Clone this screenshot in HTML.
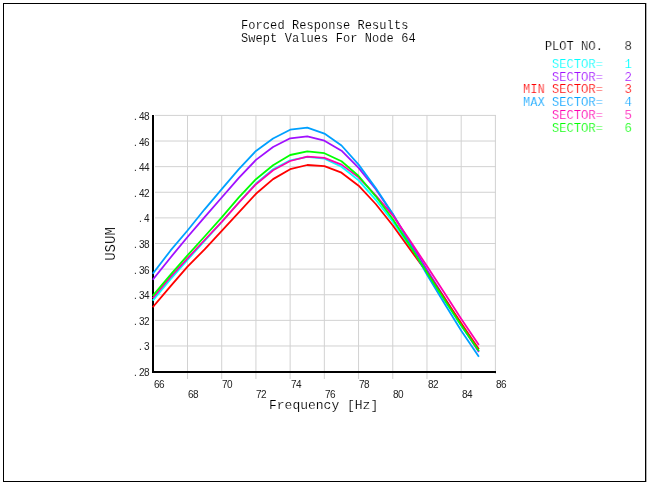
<!DOCTYPE html>
<html><head><meta charset="utf-8"><title>Forced Response Results</title>
<style>
html,body{margin:0;padding:0;background:#fff;}
body{width:649px;height:482px;position:relative;overflow:hidden;-webkit-font-smoothing:antialiased;font-family:"Liberation Sans",sans-serif;}
.m{will-change:transform;position:absolute;font-family:"Liberation Mono",monospace;white-space:pre;line-height:1;color:#000;-webkit-text-stroke:0.22px #fff;}
.t{will-change:transform;position:absolute;font-family:"Liberation Sans",sans-serif;font-size:10px;line-height:10px;color:#222;white-space:pre;letter-spacing:-0.5px;}
.yl{text-align:right;width:40px;left:109.3px;}
.yl i{font-style:normal;margin-right:2.6px;}
.lg{font-size:13.7px;transform:scaleX(0.883);transform-origin:0 0;}
</style></head><body>
<svg width="649" height="482" viewBox="0 0 649 482" style="position:absolute;left:0;top:0">
<rect x="3.5" y="3.5" width="642" height="478" fill="none" stroke="#000" stroke-width="1"/>
<rect x="646" y="3" width="1" height="479" fill="#b0b0b0"/>
<rect x="155" y="114.90" width="341" height="1" fill="#D2D2D2"/>
<rect x="155" y="140.52" width="341" height="1" fill="#D2D2D2"/>
<rect x="155" y="166.14" width="341" height="1" fill="#D2D2D2"/>
<rect x="155" y="191.76" width="341" height="1" fill="#D2D2D2"/>
<rect x="155" y="217.38" width="341" height="1" fill="#D2D2D2"/>
<rect x="155" y="243.00" width="341" height="1" fill="#D2D2D2"/>
<rect x="155" y="268.62" width="341" height="1" fill="#D2D2D2"/>
<rect x="155" y="294.24" width="341" height="1" fill="#D2D2D2"/>
<rect x="155" y="319.86" width="341" height="1" fill="#D2D2D2"/>
<rect x="155" y="345.48" width="341" height="1" fill="#D2D2D2"/>
<rect x="187.00" y="115" width="1" height="264" fill="#D2D2D2"/>
<rect x="221.21" y="115" width="1" height="264" fill="#D2D2D2"/>
<rect x="255.42" y="115" width="1" height="264" fill="#D2D2D2"/>
<rect x="289.63" y="115" width="1" height="264" fill="#D2D2D2"/>
<rect x="323.84" y="115" width="1" height="264" fill="#D2D2D2"/>
<rect x="358.05" y="115" width="1" height="264" fill="#D2D2D2"/>
<rect x="392.26" y="115" width="1" height="264" fill="#D2D2D2"/>
<rect x="426.47" y="115" width="1" height="264" fill="#D2D2D2"/>
<rect x="460.68" y="115" width="1" height="264" fill="#D2D2D2"/>
<rect x="494.89" y="115" width="1" height="259" fill="#D2D2D2"/>
<rect x="152" y="115" width="2" height="258" fill="#000"/>
<rect x="152" y="371" width="344" height="2" fill="#000"/>
<polyline points="153.30,299.90 170.41,279.30 187.52,259.80 204.63,241.00 221.74,222.00 238.85,202.50 255.96,183.50 273.07,169.30 290.18,160.30 307.29,156.80 324.40,158.60 341.51,166.70 358.62,180.40 375.73,199.80 392.84,221.80 409.95,247.30 427.06,273.20 444.17,299.60 461.28,325.70 478.39,350.60" fill="none" stroke="#00FFFF" stroke-width="1.8" stroke-linejoin="round" stroke-linecap="square"/>
<polyline points="153.30,279.00 170.41,257.70 187.52,237.00 204.63,217.20 221.74,197.50 238.85,177.90 255.96,159.90 273.07,147.00 290.18,138.30 307.29,136.40 324.40,140.70 341.51,150.70 358.62,167.90 375.73,189.30 392.84,214.20 409.95,242.00 427.06,270.00 444.17,297.30 461.28,324.80 478.39,351.30" fill="none" stroke="#A010FF" stroke-width="1.8" stroke-linejoin="round" stroke-linecap="square"/>
<polyline points="153.30,306.60 170.41,286.30 187.52,266.70 204.63,249.30 221.74,230.90 238.85,212.40 255.96,193.80 273.07,179.10 290.18,169.20 307.29,165.00 324.40,166.20 341.51,172.70 358.62,185.70 375.73,204.00 392.84,225.50 409.95,249.30 427.06,272.50 444.17,297.50 461.28,323.30 478.39,348.40" fill="none" stroke="#FF0000" stroke-width="1.8" stroke-linejoin="round" stroke-linecap="square"/>
<polyline points="153.30,273.10 170.41,250.70 187.52,230.50 204.63,209.30 221.74,189.10 238.85,169.20 255.96,150.90 273.07,138.50 290.18,129.70 307.29,127.70 324.40,133.60 341.51,145.50 358.62,164.60 375.73,188.10 392.84,214.00 409.95,244.00 427.06,274.80 444.17,303.00 461.28,330.70 478.39,356.00" fill="none" stroke="#00A0FF" stroke-width="1.8" stroke-linejoin="round" stroke-linecap="square"/>
<polyline points="153.30,297.60 170.41,277.20 187.52,258.30 204.63,240.00 221.74,221.80 238.85,202.60 255.96,184.20 273.07,170.30 290.18,161.00 307.29,156.60 324.40,157.80 341.51,164.60 358.62,177.40 375.73,195.30 392.84,215.60 409.95,240.50 427.06,266.30 444.17,292.50 461.28,319.00 478.39,344.30" fill="none" stroke="#FF00B0" stroke-width="1.8" stroke-linejoin="round" stroke-linecap="square"/>
<polyline points="153.30,295.20 170.41,274.80 187.52,255.30 204.63,236.50 221.74,217.30 238.85,197.30 255.96,179.20 273.07,165.30 290.18,155.00 307.29,151.30 324.40,153.20 341.51,161.30 358.62,176.00 375.73,196.30 392.84,219.30 409.95,245.70 427.06,272.70 444.17,299.20 461.28,325.40 478.39,350.30" fill="none" stroke="#00FF00" stroke-width="1.8" stroke-linejoin="round" stroke-linecap="square"/>
</svg>
<div class="m" style="left:241.2px;top:20.2px;font-size:12px;line-height:12.85px;letter-spacing:0.08px;-webkit-text-stroke-width:0.12px;">Forced Response Results
Swept Values For Node 64</div>
<div class="t yl" style="top:111.90px"><i>.</i>48</div>
<div class="t yl" style="top:137.90px"><i>.</i>46</div>
<div class="t yl" style="top:162.90px"><i>.</i>44</div>
<div class="t yl" style="top:188.90px"><i>.</i>42</div>
<div class="t yl" style="top:213.90px"><i>.</i>4</div>
<div class="t yl" style="top:239.90px"><i>.</i>38</div>
<div class="t yl" style="top:265.90px"><i>.</i>36</div>
<div class="t yl" style="top:290.90px"><i>.</i>34</div>
<div class="t yl" style="top:316.90px"><i>.</i>32</div>
<div class="t yl" style="top:342.40px"><i>.</i>3</div>
<div class="t yl" style="top:368.40px"><i>.</i>28</div>
<div class="t" style="left:153.80px;top:380.03px">66</div>
<div class="t" style="left:188.02px;top:390.03px">68</div>
<div class="t" style="left:222.24px;top:380.03px">70</div>
<div class="t" style="left:256.46px;top:390.03px">72</div>
<div class="t" style="left:290.68px;top:380.03px">74</div>
<div class="t" style="left:324.90px;top:390.03px">76</div>
<div class="t" style="left:359.12px;top:380.03px">78</div>
<div class="t" style="left:393.34px;top:390.03px">80</div>
<div class="t" style="left:427.56px;top:380.03px">82</div>
<div class="t" style="left:461.78px;top:390.03px">84</div>
<div class="t" style="left:496.00px;top:380.03px">86</div>
<div class="m" style="left:269px;top:398.5px;font-size:13px;-webkit-text-stroke-width:0.15px;">Frequency [Hz]</div>
<div class="m" style="left:93.7px;top:236.7px;width:34px;text-align:center;font-size:14px;-webkit-text-stroke-width:0.2px;transform:rotate(-90deg);transform-origin:50% 50%;">USUM</div>
<div class="m lg" style="left:523.2px;top:39.80px;color:#000">   PLOT NO.   8</div>
<div class="m lg" style="left:523.2px;top:57.90px;color:#00FFFF">    SECTOR=   1</div>
<div class="m lg" style="left:523.2px;top:70.65px;color:#A010FF">    SECTOR=   2</div>
<div class="m lg" style="left:523.2px;top:83.40px;color:#FF0000">MIN SECTOR=   3</div>
<div class="m lg" style="left:523.2px;top:96.15px;color:#00A0FF">MAX SECTOR=   4</div>
<div class="m lg" style="left:523.2px;top:108.90px;color:#FF00B0">    SECTOR=   5</div>
<div class="m lg" style="left:523.2px;top:121.65px;color:#00FF00">    SECTOR=   6</div>
</body></html>
